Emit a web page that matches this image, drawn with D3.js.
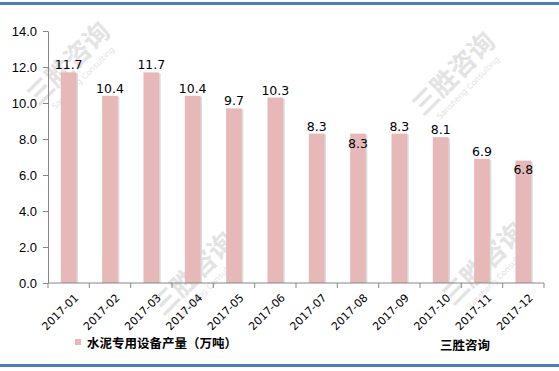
<!DOCTYPE html>
<html>
<head>
<meta charset="utf-8">
<script src="https://cdn.jsdelivr.net/npm/d3@7"></script>
<style>
  body { margin: 0; background: #fff; }
  svg { display: block; font-family: "DejaVu Sans", Verdana, sans-serif; }
</style>
</head>
<body>
<svg width="559" height="371"></svg>
<script>
var months = ['2017-01', '2017-02', '2017-03', '2017-04', '2017-05', '2017-06',
  '2017-07', '2017-08', '2017-09', '2017-10', '2017-11', '2017-12'];
var output = [11.7, 10.4, 11.7, 10.4, 9.7, 10.3, 8.3, 8.3, 8.3, 8.1, 6.9, 6.8];
var yTicks = [0, 2, 4, 6, 8, 10, 12, 14];
var seriesName = '水泥专用设备产量（万吨）';
var source = '三胜咨询';

var margin = {top: 31, left: 48, right: 15, bottom: 88};
var width = 559, height = 371;
var svg = d3.select('svg');

// frame lines top / bottom
svg.append('rect').attr('x', 0).attr('y', 2).attr('width', width).attr('height', 3).attr('fill', '#4a7ebb');
svg.append('rect').attr('x', 0).attr('y', 364).attr('width', width).attr('height', 3).attr('fill', '#4a7ebb');

// faint watermarks
var wm = svg.append('g').attr('fill', '#e3e3e3');
[[75, 70], [460, 80], [200, 280], [490, 270]].forEach(function(p) {
  var g = wm.append('g').attr('transform', 'translate(' + p[0] + ',' + p[1] + ') rotate(-45)');
  g.append('text').attr('font-size', 26).attr('font-weight', 'bold')
    .attr('font-family', '"Noto Sans CJK SC", sans-serif').attr('text-anchor', 'middle').text(source);
  g.append('text').attr('y', 14).attr('font-size', 8).attr('text-anchor', 'middle').text('Sansheng Consulting');
});

var x = d3.scaleBand()
  .domain(months)
  .range([margin.left, width - margin.right])
  .paddingInner(0.62)
  .paddingOuter(0.31);

var xEdge = d3.scaleLinear()
  .domain([0, months.length])
  .range([margin.left, width - margin.right]);

var y = d3.scaleLinear()
  .domain([0, 14])
  .range([height - margin.bottom, margin.top]);

// bars with a light shadow on the right
var bars = svg.append('g');
bars.selectAll('rect.shadow')
  .data(output)
  .enter().append('rect')
  .attr('class', 'shadow')
  .attr('x', (d, i) => x(months[i]) + 1.5)
  .attr('y', d => y(d) + 1)
  .attr('width', x.bandwidth())
  .attr('height', d => y(0) - y(d) - 1)
  .attr('fill', '#dcdcdc');
bars.selectAll('rect.bar')
  .data(output)
  .enter().append('rect')
  .attr('class', 'bar')
  .attr('x', (d, i) => x(months[i]))
  .attr('y', d => y(d))
  .attr('width', x.bandwidth())
  .attr('height', d => y(0) - y(d))
  .attr('fill', '#e6b9b8');

// y axis
var yAxis = d3.axisLeft(y).tickValues(yTicks).tickFormat(d3.format('.1f')).tickSize(5).tickSizeOuter(0);
var gy = svg.append('g').attr('transform', 'translate(' + margin.left + ',0)').call(yAxis);
gy.select('.domain').attr('stroke', '#868686');
gy.selectAll('line').attr('stroke', '#868686');
gy.selectAll('text').attr('font-size', 13).attr('fill', '#000').attr('x', -11);

// x axis, ticks between categories
var gx = svg.append('g').attr('transform', 'translate(0,' + y(0) + ')');
gx.append('line').attr('x1', margin.left).attr('x2', width - margin.right)
  .attr('stroke', '#868686');
gx.selectAll('line.tick')
  .data(d3.range(months.length + 1))
  .enter().append('line')
  .attr('class', 'tick')
  .attr('x1', d => xEdge(d)).attr('x2', d => xEdge(d))
  .attr('y1', 0).attr('y2', 5)
  .attr('stroke', '#868686');
gx.selectAll('text.lbl')
  .data(months)
  .enter().append('text')
  .attr('class', 'lbl')
  .attr('transform', d => 'translate(' + (x(d) + x.bandwidth() / 2 + 5) + ',10) rotate(-45)')
  .attr('text-anchor', 'end')
  .attr('dy', '0.7em')
  .attr('font-size', 11)
  .attr('fill', '#000')
  .text(d => d);

// data labels (two were nudged into the bar in the original)
var inside = {'2017-08': 17, '2017-12': 16};
svg.append('g').selectAll('text')
  .data(output)
  .enter().append('text')
  .attr('x', (d, i) => x(months[i]) + x.bandwidth() / 2)
  .attr('y', (d, i) => y(d) - 3 + (inside[months[i]] || 0))
  .attr('text-anchor', 'middle')
  .attr('font-size', 12.5)
  .attr('fill', '#000')
  .text(d => d.toFixed(1));

// legend
svg.append('rect').attr('x', 75).attr('y', 339).attr('width', 6).attr('height', 6).attr('fill', '#e6b9b8');
svg.append('text').attr('x', 87).attr('y', 348)
  .attr('font-family', '"Noto Sans CJK SC", sans-serif')
  .attr('font-size', 12.5).attr('font-weight', 'bold')
  .text(seriesName);
svg.append('text').attr('x', 440).attr('y', 350)
  .attr('font-family', '"Noto Sans CJK SC", sans-serif')
  .attr('font-size', 12.5).attr('font-weight', 'bold')
  .text(source);
</script>
</body>
</html>
